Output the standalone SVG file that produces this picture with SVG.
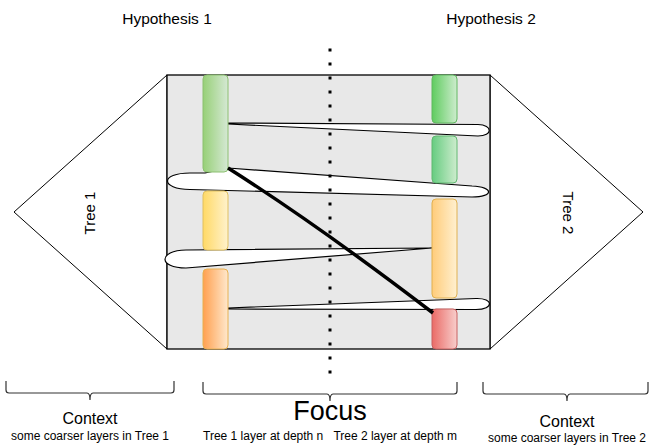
<svg xmlns="http://www.w3.org/2000/svg" width="650" height="446" viewBox="0 0 650 446">
<defs>
<linearGradient id="gL" x1="0" x2="1" y1="0" y2="0"><stop offset="0" stop-color="#97d077"/><stop offset="1" stop-color="#d5e8d4"/></linearGradient>
<linearGradient id="gR" x1="0" x2="1" y1="0" y2="0"><stop offset="0" stop-color="#5fcc5f"/><stop offset="1" stop-color="#cdeccd"/></linearGradient>
<linearGradient id="gR2" x1="0" x2="1" y1="0" y2="0"><stop offset="0" stop-color="#66cc80"/><stop offset="1" stop-color="#cdeccd"/></linearGradient>
<linearGradient id="yL" x1="0" x2="1" y1="0" y2="0"><stop offset="0" stop-color="#ffd966"/><stop offset="1" stop-color="#fff2cc"/></linearGradient>
<linearGradient id="oR" x1="0" x2="1" y1="0" y2="0"><stop offset="0" stop-color="#ffcc7a"/><stop offset="1" stop-color="#fff0d0"/></linearGradient>
<linearGradient id="oL" x1="0" x2="1" y1="0" y2="0"><stop offset="0" stop-color="#ffa050"/><stop offset="1" stop-color="#ffe8cc"/></linearGradient>
<linearGradient id="rR" x1="0" x2="1" y1="0" y2="0"><stop offset="0" stop-color="#ea6b66"/><stop offset="1" stop-color="#f8cecc"/></linearGradient>
</defs>
<style>
text{font-family:"Liberation Sans",Arial,sans-serif;fill:#000}
.tri{fill:#fff;stroke:#000;stroke-width:1}
.loop{fill:#fff;stroke:#000;stroke-width:1.2;stroke-linejoin:round}
.bar{stroke-width:1}
.brace{fill:none;stroke:#333;stroke-width:1.2}
</style>
<g id="tree1">
<polygon class="tri" points="167,75 14,212 167,349"/>
<text x="90" y="213" font-size="15" text-anchor="middle" transform="rotate(-90 90 213)" dy="5">Tree 1</text>
</g>
<g id="tree2">
<polygon class="tri" points="490,75 643,212 490,349"/>
<text x="568" y="213" font-size="15" text-anchor="middle" transform="rotate(90 568 213)" dy="5">Tree 2</text>
</g>
<g id="focus-area">
<rect x="167" y="75" width="323" height="274" fill="#e8e8e8" stroke="#000" stroke-width="1.3"/>
</g>
<g id="connectors">
<path class="loop" d="M228,123 L478,124.5 C493,125 493,136 478,136 L228,124 Z"/>
<path class="loop" d="M228,168 L472,186 C494,187 494,197 472,197 L190,189.5 C160,189 160,173 190,173 L205,173 Z"/>
<path class="loop" d="M432,248 L186,250 C158,250.5 158,268 186,268 L432,248 Z"/>
<path class="loop" d="M228,308 L476,298.5 C494,298 494,309.5 476,309.5 L228,309 Z"/>
<line x1="330" y1="48.5" x2="330" y2="376" stroke="#000" stroke-width="3" stroke-dasharray="3 11"/>
</g>
<g id="hyp1">
<text x="167" y="24" font-size="15.5" text-anchor="middle">Hypothesis 1</text>
<rect class="bar" x="203" y="75" width="25" height="97" rx="4" fill="url(#gL)" stroke="#8cc070"/>
<rect class="bar" x="203" y="191" width="25" height="59" rx="4" fill="url(#yL)" stroke="#e0c060"/>
<rect class="bar" x="203" y="269" width="25" height="80" rx="4" fill="url(#oL)" stroke="#e8b050"/>
</g>
<g id="hyp2">
<text x="491" y="24" font-size="15.5" text-anchor="middle">Hypothesis 2</text>
<rect class="bar" x="432" y="75" width="25" height="48" rx="4" fill="url(#gR)" stroke="#60b860"/>
<rect class="bar" x="432" y="136" width="25" height="47" rx="4" fill="url(#gR2)" stroke="#60b870"/>
<rect class="bar" x="432" y="199" width="25" height="99" rx="4" fill="url(#oR)" stroke="#e0b050"/>
<rect class="bar" x="432" y="309" width="25" height="40" rx="4" fill="url(#rR)" stroke="#c86060"/>
</g>
<g id="link">
<path d="M228,168 Q318,225 433,313" fill="none" stroke="#000" stroke-width="3.5"/>
</g>
<g id="context1">
<path class="brace" d="M6,381 V390 Q6,393 9,393 H87 Q90,393 90,400 Q90,393 93,393 H171 Q174,393 174,390 V381"/>
<text x="90" y="424" font-size="16" text-anchor="middle">Context</text>
<text x="90" y="440" font-size="12" text-anchor="middle">some coarser layers in Tree 1</text>
</g>
<g id="focus">
<path class="brace" d="M203,382 V391 Q203,394 206,394 H327 Q330,394 330,401 Q330,394 333,394 H454 Q457,394 457,391 V382"/>
<text x="330" y="420" font-size="27" text-anchor="middle">Focus</text>
<text x="203" y="440" font-size="12">Tree 1 layer at depth n</text>
<text x="457" y="440" font-size="12" text-anchor="end">Tree 2 layer at depth m</text>
</g>
<g id="context2">
<path class="brace" d="M483,382 V391 Q483,394 486,394 H564 Q567,394 567,401 Q567,394 570,394 H645 Q648,394 648,391 V382"/>
<text x="567" y="427" font-size="16" text-anchor="middle">Context</text>
<text x="567" y="442" font-size="12" text-anchor="middle">some coarser layers in Tree 2</text>
</g>
</svg>
